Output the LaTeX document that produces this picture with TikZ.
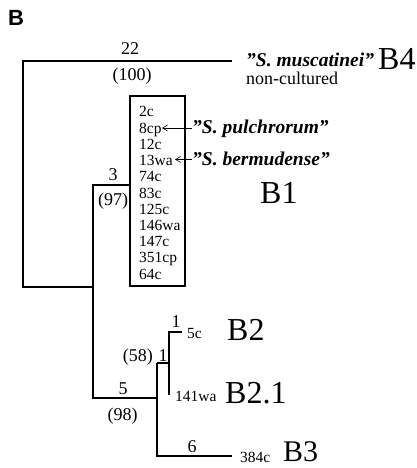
\documentclass[tikz,border=0pt]{standalone}
\usepackage{fontspec}
\setmainfont{Liberation Serif}
\newfontfamily\panelfont{Liberation Sans}
\usetikzlibrary{arrows.meta}
\begin{document}
\begin{tikzpicture}[x=1pt,y=-1pt,
  branch/.style={line width=1.6pt},
  taxon/.style={inner sep=0pt,anchor=base west,font=\fontsize{15.5}{16}\selectfont},
  smalltaxon/.style={inner sep=0pt,anchor=base west,font=\fontsize{15.5}{16}\selectfont},
  blabel/.style={inner sep=0pt,anchor=base,font=\fontsize{18}{20}\selectfont},
  clade/.style={inner sep=0pt,text depth=0pt,anchor=base west,font=\fontsize{32}{34}\selectfont},
  species/.style={inner sep=0pt,anchor=base west,font=\fontsize{19.5}{21}\selectfont\bfseries\itshape},
  pointer/.style={line width=0.6pt,-{Straight Barb[length=5pt,width=6pt]}}]
\useasboundingbox (0,0) rectangle (417,468);
% panel letter
\node[inner sep=0pt,anchor=base west,font=\fontsize{22}{23}\selectfont\panelfont\bfseries] (panel) at (8,26) {B};
% internal nodes
\coordinate (r) at (23,61);
\coordinate (rb) at (23,287);
\coordinate (n1) at (93,287);
\coordinate (n1t) at (93,185);
\coordinate (n1b) at (93,398);
\coordinate (n2) at (157,398);
\coordinate (n2t) at (157,363);
\coordinate (n2b) at (157,456);
\coordinate (n3) at (169,363);
\coordinate (n3t) at (169,332);
\coordinate (n3b) at (169,395);
\coordinate (b4end) at (232,61);
\coordinate (b3end) at (232,456);
\coordinate (b2end) at (182,332);
% B1 box
\draw[line width=1.6pt] (130,96) rectangle (185,286);
\coordinate (boxin) at (130,185);
% branches
\draw[branch] (b4end) -- (r) -- (rb) -- (n1);
\draw[branch] (boxin) -- (n1t) -- (n1b) -- (n2);
\draw[branch] (n2t) -- (n2b) -- (b3end);
\draw[branch] (n2t) -- (n3);
\draw[branch] (n3b) -- (n3t) -- (b2end);
% branch labels
\node[blabel] (l22) at (130,55) {22};
\node[blabel] (l100) at (132,81) {(100)};
\node[blabel] (l3) at (113,180) {3};
\node[blabel] (l97) at (113,205) {(97)};
\node[blabel] (l1a) at (176,327) {1};
\node[blabel,anchor=base east] (l58) at (153,361) {(58)};
\node[blabel] (l1b) at (163,361) {1};
\node[blabel] (l5) at (123,394) {5};
\node[blabel] (l98) at (122.5,420) {(98)};
\node[blabel] (l6) at (192,452) {6};
% box taxa
\node[taxon] (t2c) at (139,117) {2c};
\node[taxon] (t8cp) at (139,133.2) {8cp};
\node[taxon] (t12c) at (139,149.4) {12c};
\node[taxon] (t13wa) at (139,165.6) {13wa};
\node[taxon] (t74c) at (139,181.8) {74c};
\node[taxon] (t83c) at (139,198) {83c};
\node[taxon] (t125c) at (139,214.2) {125c};
\node[taxon] (t146wa) at (139,230.4) {146wa};
\node[taxon] (t147c) at (139,246.6) {147c};
\node[taxon] (t351cp) at (139,262.8) {351cp};
\node[taxon] (t64c) at (139,279) {64c};
% species names
\node[species] (musc) at (246,67) {"S. muscatinei"};
\node[inner sep=0pt,anchor=base west,font=\fontsize{18}{19}\selectfont] (noncult) at (246,85) {non-cultured};
\node[species] (pulch) at (192,133) {"S. pulchrorum"};
\node[species] (berm) at (192,165.6) {"S. bermudense"};
\draw[pointer] (pulch.west |- 0,128) -- (162,128);
\draw[pointer] (berm.west |- 0,159.5) -- (175,159.5);
% other taxa
\node[smalltaxon] (t5c) at (187,338) {5c};
\node[smalltaxon] (t141wa) at (175,401) {141wa};
\node[smalltaxon] (t384c) at (240,462) {384c};
% clade labels
\node[clade] (cB4) at (378,70) {B4};
\node[clade] (cB1) at (260,203) {B1};
\node[clade] (cB2) at (227,340) {B2};
\node[clade] (cB21) at (225,403) {B2.1};
\node[clade,font=\fontsize{30}{32}\selectfont] (cB3) at (283,461) {B3};
\end{tikzpicture}
\end{document}
